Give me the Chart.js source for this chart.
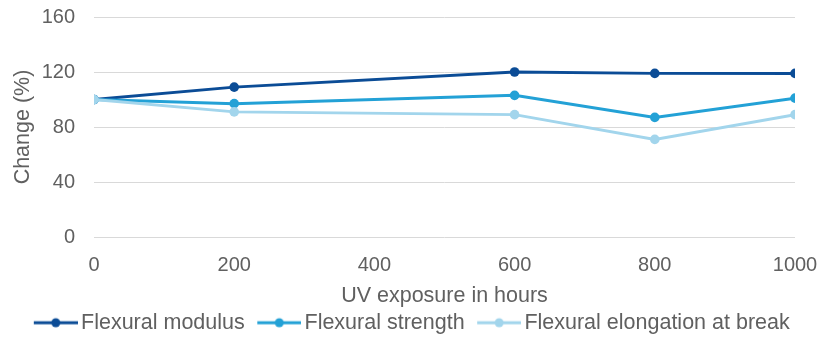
<!DOCTYPE html>
<html>
<head>
<meta charset="utf-8">
<script src="https://cdn.jsdelivr.net/npm/chart.js@4.4.1/dist/chart.umd.min.js"></script>
<style>
  html, body { margin: 0; padding: 0; background: #ffffff; }
  #wrap { width: 820px; height: 339px; position: relative; }
</style>
</head>
<body>
<div id="wrap"><canvas id="chart"></canvas></div>
<script>
// UV exposure (hours) and relative property retention (%)
const hours = [0, 200, 600, 800, 1000];
const flexuralModulus = [100, 109, 120, 119, 119];
const flexuralStrength = [100, 97, 103, 87, 101];
const flexuralElongation = [100, 91, 89, 71, 89];
const yTicks = [0, 40, 80, 120, 160];
const xTicks = [0, 200, 400, 600, 800, 1000];

const seriesNames = ['Flexural modulus', 'Flexural strength', 'Flexural elongation at break'];
const seriesColors = ['#0b4c96', '#23a1d6', '#a2d5ec'];

const textColor = '#606060';
const fontFamily = '"Liberation Sans", Arial, Helvetica, sans-serif';

// legend marker: short line with a dot in the middle, sitting at the right of the image
function legendMarker(color) {
  const c = document.createElement('canvas');
  c.width = 55; c.height = 12;
  const g = c.getContext('2d');
  const x0 = 11, x1 = 55, cx = (x0 + x1) / 2;
  g.strokeStyle = color;
  g.lineWidth = 3;
  g.beginPath(); g.moveTo(x0, 6); g.lineTo(x1, 6); g.stroke();
  g.fillStyle = color;
  g.beginPath(); g.arc(cx, 6, 4.5, 0, Math.PI * 2); g.fill();
  return c;
}

function toPoints(values) {
  return hours.map((h, i) => ({ x: h, y: values[i] }));
}

const seriesValues = [flexuralModulus, flexuralStrength, flexuralElongation];
const datasets = seriesValues.map((vals, i) => ({
  label: seriesNames[i],
  data: toPoints(vals),
  borderColor: seriesColors[i],
  backgroundColor: seriesColors[i],
  pointBackgroundColor: seriesColors[i],
  pointBorderColor: seriesColors[i],
  pointStyle: 'circle',
  pointRadius: 4.8,
  pointBorderWidth: 0,
  borderWidth: 3,
  tension: 0,
  // later series sit on top
  order: seriesValues.length - 1 - i
}));

const fitY = (axis) => { axis.width = 94; axis.paddingTop = 17; axis.paddingBottom = 0; };
const fitX = (axis) => { axis.height = 66; axis.paddingLeft = 0; axis.paddingRight = 25; };

new Chart(document.getElementById('chart'), {
  type: 'line',
  data: { datasets },
  options: {
    responsive: true,
    maintainAspectRatio: false,
    animation: false,
    layout: { padding: { top: 0, right: 0, left: 0, bottom: -4.5 } },
    scales: {
      x: {
        type: 'linear',
        min: 0, max: 1000,
        afterBuildTicks: (axis) => { axis.ticks = xTicks.map(v => ({ value: v })); },
        afterFit: fitX,
        grid: { display: false, drawTicks: false },
        border: { display: false },
        ticks: { color: textColor, font: { family: fontFamily, size: 20 }, padding: 16, maxRotation: 0,
                 callback: (v) => String(v) },
        title: { display: true, text: 'UV exposure in hours', color: textColor,
                 font: { family: fontFamily, size: 21.5 }, padding: { top: -6, bottom: -6 } }
      },
      y: {
        min: 0, max: 160,
        afterBuildTicks: (axis) => { axis.ticks = yTicks.map(v => ({ value: v })); },
        afterFit: fitY,
        grid: { color: '#d9d9d9', lineWidth: 1, drawTicks: false },
        border: { display: false },
        ticks: { color: textColor, font: { family: fontFamily, size: 20 }, padding: 19 },
        title: { display: true, text: 'Change (%)', color: textColor,
                 font: { family: fontFamily, size: 21.5 }, padding: { top: 10, bottom: 0 } }
      }
    },
    plugins: {
      tooltip: { enabled: false },
      legend: {
        position: 'bottom',
        labels: {
          usePointStyle: true,
          pointStyleWidth: 40,
          boxHeight: 12,
          padding: 9,
          color: textColor,
          font: { family: fontFamily, size: 21.5 },
          generateLabels: (chart) => chart.data.datasets.map((d, i) => ({
            text: d.label,
            pointStyle: legendMarker(d.borderColor),
            fillStyle: d.borderColor,
            strokeStyle: d.borderColor,
            lineWidth: 0,
            hidden: false,
            datasetIndex: i,
            fontColor: textColor
          }))
        }
      }
    }
  }
});
</script>
</body>
</html>
